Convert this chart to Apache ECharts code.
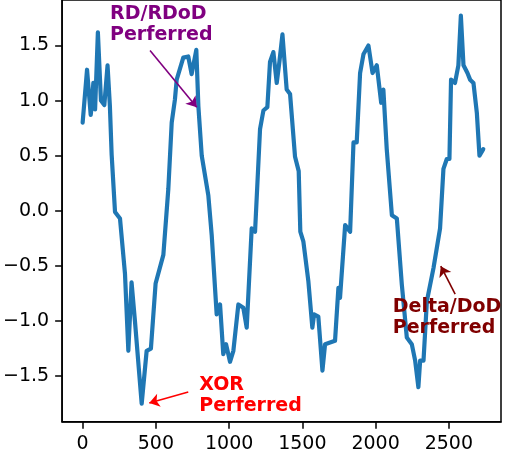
<!DOCTYPE html>
<html>
<head>
<meta charset="utf-8">
<script src="https://cdn.jsdelivr.net/npm/echarts@6/dist/echarts.min.js"></script>
<style>
html,body{margin:0;padding:0;background:#fff;}
#chart{width:514px;height:461px;}
</style>
</head>
<body>
<div id="chart"></div>
<script>
const xs = [0, 30, 55, 62, 73, 85, 104, 125, 148, 170, 186, 198, 221, 255, 289, 312, 334, 357, 403, 437, 466, 498, 551, 585, 608, 630, 642, 687, 721, 744, 776, 790, 813, 858, 881, 915, 938, 960, 979, 1006, 1029, 1063, 1097, 1120, 1154, 1177, 1211, 1234, 1261, 1279, 1302, 1325, 1343, 1364, 1393, 1416, 1450, 1475, 1486, 1507, 1541, 1568, 1580, 1609, 1637, 1655, 1723, 1746, 1757, 1792, 1826, 1849, 1871, 1894, 1917, 1951, 1979, 2008, 2038, 2053, 2076, 2111, 2145, 2179, 2213, 2247, 2270, 2292, 2304, 2327, 2350, 2395, 2440, 2463, 2486, 2504, 2515, 2542, 2565, 2582, 2600, 2627, 2645, 2668, 2691, 2709, 2735];
const ys = [0.80, 1.28, 0.87, 0.95, 1.16, 0.92, 1.62, 1.00, 0.96, 1.32, 0.95, 0.51, -0.01, -0.07, -0.57, -1.27, -0.65, -1.00, -1.75, -1.27, -1.25, -0.66, -0.40, 0.20, 0.80, 1.01, 1.19, 1.39, 1.40, 1.24, 1.46, 0.95, 0.50, 0.14, -0.22, -0.94, -0.85, -1.30, -1.21, -1.37, -1.27, -0.85, -0.88, -1.06, -0.16, -0.19, 0.74, 0.91, 0.94, 1.35, 1.44, 1.16, 1.35, 1.60, 1.10, 1.06, 0.49, 0.36, -0.19, -0.28, -0.64, -1.06, -0.94, -0.96, -1.45, -1.21, -1.18, -0.70, -0.79, -0.13, -0.19, 0.62, 0.62, 1.25, 1.42, 1.50, 1.25, 1.32, 0.98, 1.10, 0.56, -0.04, -0.07, -0.67, -1.15, -1.21, -1.36, -1.60, -1.36, -1.36, -0.82, -0.52, -0.16, 0.38, 0.47, 0.47, 1.19, 1.16, 1.32, 1.77, 1.32, 1.25, 1.19, 1.16, 0.89, 0.50, 0.56];
const xTicks = [0, 500, 1000, 1500, 2000, 2500];
const yTicks = [-1.5, -1.0, -0.5, 0.0, 0.5, 1.0, 1.5];
const annTexts = ['RD/RDoD\nPerferred', 'XOR\nPerferred', 'Delta/DoD\nPerferred'];
const annColors = ['#800080', '#ff0000', '#800000'];
const annTextAt = [[187, 1.882], [796, -1.489], [2117, -0.777]];
const annArrowFrom = [[460, 1.454], [721, -1.644], [2543, -0.757]];
const annArrowTo = [[779, 0.940], [455, -1.743], [2445, -0.502]];

const font = 'DejaVu Sans';
const chart = echarts.init(document.getElementById('chart'), null, {renderer: 'canvas'});
const option = {
  animation: false,
  backgroundColor: '#fff',
  grid: {left: 62, right: 13, top: -3, bottom: 39.3, show: true, borderColor: '#000', borderWidth: 1.5, backgroundColor: 'transparent'},
  xAxis: {
    type: 'value', min: -140, max: 2856,
    axisLine: {show: true, onZero: false, lineStyle: {color: '#000', width: 1.5}},
    axisTick: {show: true, inside: false, length: 7, customValues: xTicks, lineStyle: {color: '#000', width: 1.5}},
    axisLabel: {customValues: xTicks, color: '#000', fontSize: 19, fontFamily: font, margin: 13,
      formatter: v => String(Math.round(v))},
    splitLine: {show: false}
  },
  yAxis: {
    type: 'value', min: -1.9135, max: 1.9126,
    axisLine: {show: true, onZero: false, lineStyle: {color: '#000', width: 1.5}},
    axisTick: {show: true, inside: false, length: 7, customValues: yTicks, lineStyle: {color: '#000', width: 1.5}},
    axisLabel: {customValues: yTicks, color: '#000', fontSize: 19, fontFamily: font, margin: 13,
      formatter: v => (v < 0 ? '\u2212' : '') + Math.abs(v).toFixed(1)},
    splitLine: {show: false}
  },
  series: [{
    type: 'line',
    data: xs.map((x, i) => [x, ys[i]]),
    showSymbol: false,
    symbol: 'none',
    smooth: false,
    lineStyle: {color: '#1f77b4', width: 4.2, join: 'round', cap: 'round'},
    itemStyle: {color: '#1f77b4'},
    z: 2,
    markLine: {
      silent: true,
      symbol: ['none', 'arrow'],
      symbolSize: 10,
      label: {show: false},
      emphasis: {disabled: true},
      data: annArrowFrom.map((f, i) => [
        {coord: f, symbol: 'none', lineStyle: {color: annColors[i], width: 1.6, type: 'solid'}, itemStyle: {color: annColors[i]}},
        {coord: annArrowTo[i], symbol: 'arrow', symbolSize: 10, itemStyle: {color: annColors[i]}}
      ])
    },
    markPoint: {
      silent: true,
      symbol: 'circle',
      symbolSize: 0,
      data: annTextAt.map((p, i) => ({
        coord: p,
        label: {
          show: true, position: [0, 0], formatter: annTexts[i], color: annColors[i],
          fontSize: 19, fontWeight: 'bold', fontFamily: font, lineHeight: 21,
          align: 'left', verticalAlign: 'top'
        }
      }))
    }
  }]
};
chart.setOption(option);
</script>
</body>
</html>
